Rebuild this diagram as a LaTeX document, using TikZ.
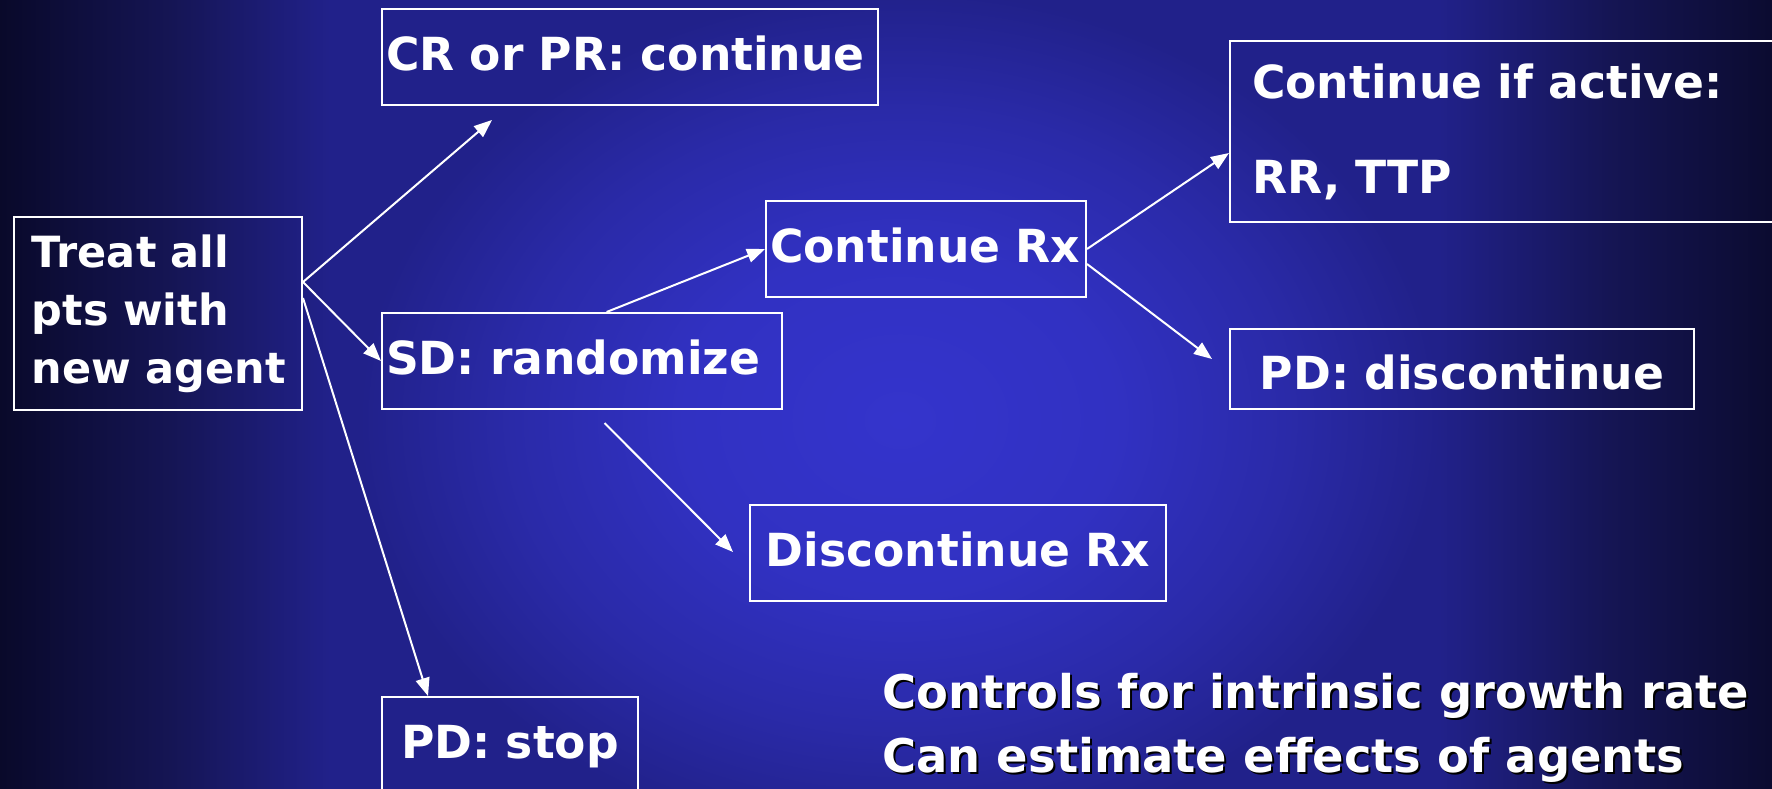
\documentclass[tikz,border=0pt]{standalone}
\usepackage{fontspec}
\setmainfont{DejaVu Sans}
\usetikzlibrary{arrows.meta,calc}
\definecolor{edgeA}{HTML}{09092A}
\definecolor{edgeB}{HTML}{151554}
\definecolor{edgeC}{HTML}{0B0B30}
\definecolor{plateau}{HTML}{21218A}
\definecolor{glow0}{HTML}{3434CC}
\definecolor{glow1}{HTML}{3131C2}
\definecolor{glow2}{HTML}{2A2AA8}
\pgfdeclarehorizontalshading{hbg}{100bp}{color(0bp)=(edgeA); color(25bp)=(edgeA); color(29.8bp)=(edgeB); color(34.3bp)=(plateau); color(65.6bp)=(plateau); color(70.4bp)=(edgeB); color(75bp)=(edgeC); color(100bp)=(edgeC)}
\pgfdeclareradialshading{glowshade}{\pgfpoint{0bp}{0bp}}{color(0bp)=(glow0); color(10bp)=(glow1); color(18bp)=(glow2); color(25bp)=(plateau); color(50bp)=(plateau)}
\newcommand{\boxfont}{\fontsize{22.8pt}{29pt}\selectfont\bfseries}
\newcommand{\treatfont}{\fontsize{21.5pt}{29pt}\selectfont\bfseries}
\begin{document}
\begin{tikzpicture}[x=0.5pt,y=-0.5pt,
  box/.style={draw=white, line width=1pt, anchor=north west, inner ysep=0pt,
    text=white, font=\boxfont},
  lbox/.style={box, align=left},
  cbox/.style={box, align=center},
  oneline/.style={text height=13pt, text depth=0pt},
  arr/.style={draw=white, line width=1pt, -{Triangle[length=9pt,width=7pt]}},
  note/.style={anchor=base west, font=\fontsize{23.2pt}{29pt}\selectfont\bfseries, inner sep=0pt}]
\useasboundingbox (0,0) rectangle (1772,788);
\begin{scope}
  \clip (0,0) rectangle (1772,788);
  \shade[shading=hbg] (0,0) rectangle (1772,788);
  \shade[shading=glowshade] (900,420) ellipse [x radius=540, y radius=430];
\end{scope}

\node[lbox, font=\treatfont, minimum height=96.5pt, text width=126pt, inner xsep=9pt] (treat) at (13,216) {Treat all\\pts with\\new~agent};
\node[lbox, oneline, minimum height=48pt, text width=244pt, inner xsep=2pt] (cr) at (381,8) {CR or PR: continue};
\node[lbox, oneline, minimum height=48pt, text width=196pt, inner xsep=2pt] (sd) at (381,312) {SD: randomize};
\node[lbox, oneline, minimum height=48pt, text width=156pt, inner xsep=2pt] (crx) at (765,200) {Continue Rx};
\node[lbox, minimum height=90.5pt, text width=258pt, inner xsep=11pt] (cia) at (1229,40) {Continue if active:\\[18.5pt]RR, TTP};
\node[cbox, text height=20pt, text depth=0pt, minimum height=40pt, text width=228pt, inner xsep=2pt] (pdd) at (1229,328) {PD: discontinue};
\node[cbox, oneline, minimum height=48pt, text width=204pt, inner xsep=2pt] (drx) at (749,504) {Discontinue Rx};
\node[cbox, oneline, minimum height=48pt, text width=124pt, inner xsep=2pt] (stop) at (381,696) {PD: stop};

\coordinate (crin) at (492,120);
\coordinate (pddin) at (1212,359);
\coordinate (sdout) at (604.5,423);
\coordinate (drxin) at (733,552);

\draw[arr] ([yshift=15.75pt]treat.east) -- (crin);
\draw[arr] ([yshift=15.75pt]treat.east) -- (sd.west);
\draw[arr] ([yshift=7.75pt]treat.east) -- ([xshift=23.5pt]stop.north west);
\draw[arr] ([xshift=12.3pt]sd.north) -- (crx.west);
\draw[arr] (crx.east) -- ([yshift=-10.75pt]cia.west);
\draw[arr] ([yshift=-7.5pt]crx.east) -- (pddin);
\draw[arr] (sdout) -- (drxin);

\node[note, text=black] (note1s) at (884,710) {Controls for intrinsic growth rate};
\node[note, text=black] (note2s) at (884,774) {Can estimate effects of agents};
\node[note, text=white] (note1) at (882,708) {Controls for intrinsic growth rate};
\node[note, text=white] (note2) at (882,772) {Can estimate effects of agents};
\end{tikzpicture}
\end{document}
